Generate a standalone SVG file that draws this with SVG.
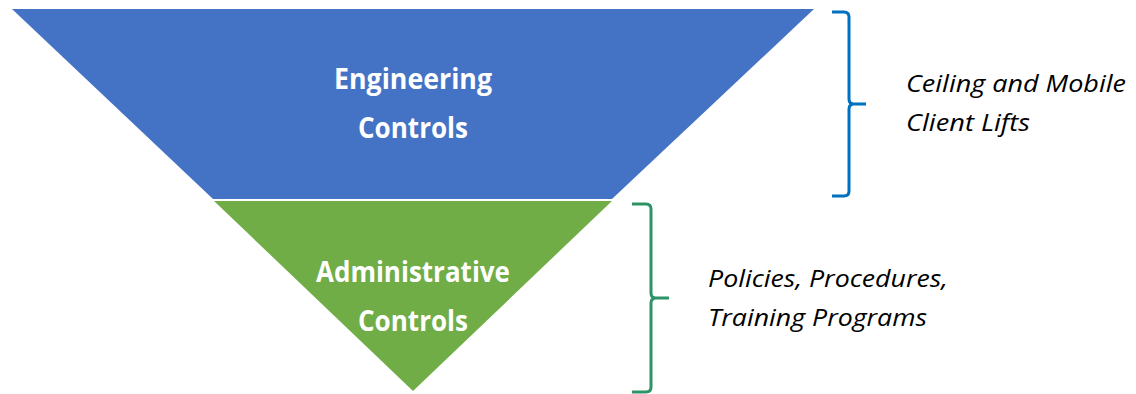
<svg xmlns="http://www.w3.org/2000/svg" width="1136" height="394" viewBox="0 0 1136 394">
  <style>
    .tier-label { font-family: "Open Sans", "Liberation Sans", sans-serif; font-weight: bold; font-size: 28px; fill: #ffffff; text-anchor: middle; }
    .note { font-family: "Open Sans", "Liberation Sans", sans-serif; font-style: italic; font-size: 24px; fill: #000000; }
    .brace { fill: none; stroke-width: 3; stroke-linejoin: round; stroke-linecap: butt; }
  </style>
  <rect width="1136" height="394" fill="#ffffff"/>

  <g id="engineering-controls">
    <polygon points="12,9 814,9 612,199 213,199" fill="#4472C4"/>
    <text class="tier-label" x="413" y="89" textLength="158" lengthAdjust="spacingAndGlyphs">Engineering</text>
    <text class="tier-label" x="413" y="138" textLength="110" lengthAdjust="spacingAndGlyphs">Controls</text>
  </g>

  <g id="administrative-controls">
    <polygon points="214,201 612,201 413,391" fill="#70AD47"/>
    <text class="tier-label" x="413" y="282" textLength="194" lengthAdjust="spacingAndGlyphs">Administrative</text>
    <text class="tier-label" x="413" y="331" textLength="110" lengthAdjust="spacingAndGlyphs">Controls</text>
  </g>

  <g id="connectors">
    <path class="brace" stroke="#0070C0" d="M832,12 H844 Q849,12 849,17 V99 Q849,104 854,104 H866 M854,104 Q849,104 849,109 V191 Q849,196 844,196 H832"/>
    <path class="brace" stroke="#2E9467" d="M632,204 H646 Q651,204 651,209 V293 Q651,298 656,298 H669 M656,298 Q651,298 651,303 V387 Q651,392 646,392 H632"/>
  </g>

  <g id="engineering-note">
    <text class="note" x="906" y="92" textLength="220" lengthAdjust="spacingAndGlyphs">Ceiling and Mobile</text>
    <text class="note" x="906" y="131" textLength="124" lengthAdjust="spacingAndGlyphs">Client Lifts</text>
  </g>

  <g id="administrative-note">
    <text class="note" x="708" y="287" textLength="240" lengthAdjust="spacingAndGlyphs">Policies, Procedures,</text>
    <text class="note" x="708" y="326" textLength="219" lengthAdjust="spacingAndGlyphs">Training Programs</text>
  </g>
</svg>
